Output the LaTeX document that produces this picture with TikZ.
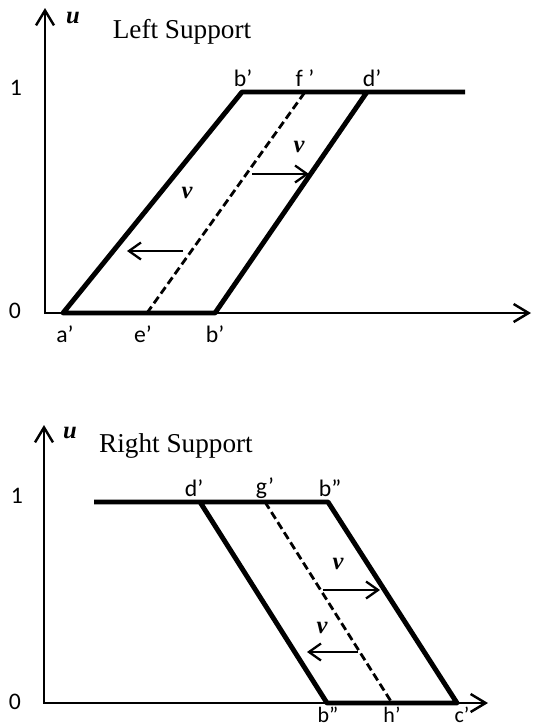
\documentclass[tikz,border=0pt]{standalone}
\usepackage{fontspec}
\setmainfont{Liberation Serif}
\newfontfamily\calib{Carlito}
\usetikzlibrary{arrows.meta,calc}
\tikzset{
  axisline/.style={line width=1.4pt},
  bandline/.style={line width=2.8pt,line join=round},
  midline/.style={line width=1.6pt,dash pattern=on 4.5pt off 2.3pt},
  shiftarrow/.style={line width=1.3pt,-{Straight Barb[length=2.4mm,width=3.4mm]}},
  ptlabel/.style={font=\calib\fontsize{13.5}{15}\selectfont,inner sep=0pt},
  lowlabel/.style={font=\calib\fontsize{12.5}{14}\selectfont,inner sep=0pt,anchor=base},
  vlabel/.style={font=\fontsize{14}{16}\selectfont\bfseries\itshape,inner sep=0pt},
  titlelabel/.style={font=\fontsize{15.5}{18}\selectfont,inner sep=0pt},
}

\begin{document}
\begin{tikzpicture}[x=0.02cm,y=-0.02cm,>={Straight Barb[length=3mm,width=3.6mm]}]
\useasboundingbox (0,0) rectangle (536,727);

% left support
\coordinate (O1) at (45,313);
\coordinate (Y1) at (45,8);
\coordinate (X1) at (531,313);
\coordinate (A1) at (63,313);
\coordinate (E1) at (147,313);
\coordinate (B1) at (215,313);
\coordinate (Bt1) at (242,92);
\coordinate (F1) at (305,92);
\coordinate (D1) at (367,92);
\coordinate (R1) at (465,92);
\coordinate (p1) at (252,174);
\coordinate (q1) at (309,174);
\coordinate (p2) at (183,251);
\coordinate (q2) at (127,251);

\draw[axisline,<->] (Y1) -- (O1) -- (X1);
\draw[bandline] (R1) -- (Bt1) -- (A1) -- (B1) -- (D1);
\draw[midline] (E1) -- (F1);
\draw[shiftarrow] (p1) -- (q1);
\draw[shiftarrow] (p2) -- (q2);

\node[vlabel] (u1) at (73,18) {u};
\node[titlelabel] (title1) at (182,32) {Left Support};
\node[ptlabel] (one1) at (16,88) {1};
\node[ptlabel] (zero1) at (15,311) {0};
\node[ptlabel] (lbt1) at (243,78) {b’};
\node[ptlabel] (lf1) at (305,78) {f ’};
\node[ptlabel] (ld1) at (372,78) {d’};
\node[ptlabel] (la1) at (65,334) {a’};
\node[ptlabel] (le1) at (143,334) {e’};
\node[ptlabel] (lb1) at (215,334) {b’};
\node[vlabel] (v1) at (299,147) {v};
\node[vlabel] (v2) at (187,193) {v};

% right support
\coordinate (O2) at (44,703);
\coordinate (Y2) at (44,425);
\coordinate (X2) at (488,703);
\coordinate (L2) at (94,502);
\coordinate (D2) at (200,502);
\coordinate (G2) at (265,502);
\coordinate (Bt2) at (328,502);
\coordinate (Bb2) at (327,703);
\coordinate (H2) at (392,703);
\coordinate (C2) at (457,703);
\coordinate (p3) at (323,590);
\coordinate (q3) at (380,590);
\coordinate (p4) at (358,652);
\coordinate (q4) at (307,652);

\draw[axisline,<->] (Y2) -- (O2) -- (X2);
\draw[bandline] (L2) -- (Bt2) -- (C2) -- (Bb2) -- (D2);
\draw[midline] (G2) -- (H2);
\draw[shiftarrow] (p3) -- (q3);
\draw[shiftarrow] (p4) -- (q4);

\node[vlabel] (u2) at (70,433) {u};
\node[titlelabel] (title2) at (176,446) {Right Support};
\node[ptlabel] (one2) at (17,496) {1};
\node[ptlabel] (zero2) at (15,702) {0};
\node[ptlabel] (ld2) at (194,488) {d’};
\node[ptlabel] (lg2) at (265,488) {g’};
\node[ptlabel] (lbt2) at (330,488) {b”};
\node[lowlabel] (lbb2) at (328,722) {b”};
\node[lowlabel] (lh2) at (392,722) {h’};
\node[lowlabel] (lc2) at (462,722) {c’};
\node[vlabel] (v3) at (338,564) {v};
\node[vlabel] (v4) at (322,628) {v};

\end{tikzpicture}
\end{document}
